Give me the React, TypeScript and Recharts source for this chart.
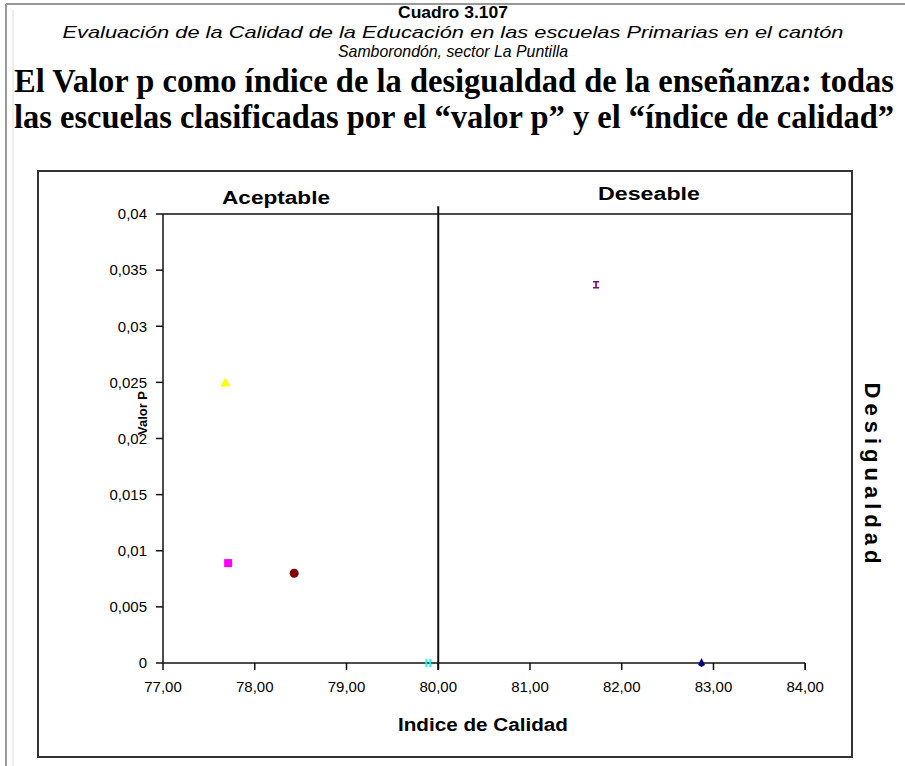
import React from 'react';
import { ScatterChart, Scatter, XAxis, YAxis, ReferenceLine } from 'recharts';

// ---- data ----
const xTicks = [77, 78, 79, 80, 81, 82, 83, 84];
const yTicks = [0, 0.005, 0.01, 0.015, 0.02, 0.025, 0.03, 0.035, 0.04];
const escuelaAmarilla = [{ x: 77.68, y: 0.025 }];
const escuelaMagenta = [{ x: 77.71, y: 0.0089 }];
const escuelaGranate = [{ x: 78.43, y: 0.008 }];
const escuelaCian = [{ x: 79.89, y: 0 }];
const escuelaPurpura = [{ x: 81.72, y: 0.0337 }];
const escuelaAzul = [{ x: 82.87, y: 0 }];

const titleLines = [
  'Cuadro 3.107',
  'Evaluación de la Calidad de la Educación en las escuelas Primarias en el cantón',
  'Samborondón, sector La Puntilla',
  'El Valor p como índice de la desigualdad de la enseñanza: todas',
  'las escuelas clasificadas por el “valor p” y  el “índice de calidad”',
];

const fmtY = (v: number) => (v === 0 ? '0' : String(v).replace('.', ','));
const fmtX = (v: number) => v.toFixed(2).replace('.', ',');

const Tri = (p: any) => (
  <polygon points={`${p.cx},${p.cy - 5} ${p.cx - 5},${p.cy + 4} ${p.cx + 5},${p.cy + 4}`} fill="#FFFF00" />
);
const Sq = (p: any) => <rect x={p.cx - 4} y={p.cy - 4} width={8} height={8} fill="#FF00FF" />;
const Circ = (p: any) => <circle cx={p.cx} cy={p.cy} r={4.5} fill="#800000" />;
const IBeam = (p: any) => (
  <path
    d={`M${p.cx - 3},${p.cy - 3}H${p.cx + 3}M${p.cx},${p.cy - 3}V${p.cy + 3}M${p.cx - 3},${p.cy + 3}H${p.cx + 3}`}
    stroke="#800080"
    strokeWidth={1.6}
    fill="none"
  />
);
const Bars = (p: any) => (
  <path
    d={`M${p.cx - 2},${p.cy - 4}V${p.cy + 4}M${p.cx + 2},${p.cy - 4}V${p.cy + 4}`}
    stroke="#00FFFF"
    strokeWidth={1.6}
    fill="none"
  />
);
const Drop = (p: any) => (
  <polygon points={`${p.cx},${p.cy - 5} ${p.cx + 3.5},${p.cy + 2} ${p.cx},${p.cy + 4} ${p.cx - 3.5},${p.cy + 2}`} fill="#000080" />
);

export default function App() {
  const tickStyle = { fontFamily: 'Liberation Sans, Arial, sans-serif', fontSize: 15, fill: '#000' };
  const sans = 'Liberation Sans, Arial, sans-serif';
  const serif = 'Liberation Serif, Times New Roman, serif';
  return (
    <div style={{ position: 'absolute', left: 0, top: 0, width: 905, height: 766, background: '#fff', overflow: 'hidden' }}>
      {/* header + frame */}
      <svg width={905} height={766} style={{ position: 'absolute', left: 0, top: 0 }}>
        <line x1={6} y1={4} x2={905} y2={4} stroke="#999" strokeWidth={2} />
        <line x1={6} y1={4} x2={6} y2={766} stroke="#999" strokeWidth={2} />
        <line x1={13} y1={10} x2={13} y2={766} stroke="#ddd" strokeWidth={1} />
        <text x={453} y={18} textAnchor="middle" fontFamily={sans} fontWeight="bold" fontSize={16} textLength={110} lengthAdjust="spacingAndGlyphs">
          {titleLines[0]}
        </text>
        <text x={453} y={38} textAnchor="middle" fontFamily={sans} fontStyle="italic" fontSize={17} textLength={781} lengthAdjust="spacingAndGlyphs">
          {titleLines[1]}
        </text>
        <text x={453} y={57} textAnchor="middle" fontFamily={sans} fontStyle="italic" fontSize={17} textLength={230} lengthAdjust="spacingAndGlyphs">
          {titleLines[2]}
        </text>
        <g transform="translate(454 92) scale(1 1.1)">
          <text x={0} y={0} textAnchor="middle" fontFamily={serif} fontWeight="bold" fontSize={31} textLength={880} lengthAdjust="spacingAndGlyphs">
            {titleLines[3]}
          </text>
        </g>
        <g transform="translate(454 128) scale(1 1.1)">
          <text x={0} y={0} textAnchor="middle" fontFamily={serif} fontWeight="bold" fontSize={31} textLength={880} lengthAdjust="spacingAndGlyphs">
            {titleLines[4]}
          </text>
        </g>
        <rect x={38} y={171} width={814} height={586} fill="none" stroke="#333" strokeWidth={2} />
      </svg>
      <div style={{ position: 'absolute', left: 0, top: 0 }}>
        <ScatterChart width={905} height={766} margin={{ top: 214, right: 53, bottom: 73, left: 103 }}>
          <XAxis
            type="number"
            dataKey="x"
            domain={[77, 84.51]}
            ticks={xTicks}
            tickFormatter={fmtX}
            axisLine={false}
            tickLine={{ stroke: '#111', strokeWidth: 1.5 }}
            tickSize={7}
            tickMargin={11}
            tick={tickStyle}
            interval={0}
            allowDataOverflow
          />
          <YAxis
            type="number"
            dataKey="y"
            domain={[0, 0.04]}
            ticks={yTicks}
            tickFormatter={fmtY}
            axisLine={{ stroke: '#111', strokeWidth: 1.5 }}
            tickLine={{ stroke: '#111', strokeWidth: 1.5 }}
            tickSize={7}
            tickMargin={9}
            tick={tickStyle}
            interval={0}
            width={60}
          />
          <ReferenceLine y={0.04} stroke="#111" strokeWidth={1.5} ifOverflow="visible" />
          <ReferenceLine segment={[{ x: 77, y: 0 }, { x: 84, y: 0 }]} stroke="#111" strokeWidth={1.5} ifOverflow="visible" />
          <ReferenceLine segment={[{ x: 84, y: 0 }, { x: 84, y: -0.0006 }]} stroke="#111" strokeWidth={1.5} ifOverflow="visible" />
          <ReferenceLine segment={[{ x: 80, y: -0.0006 }, { x: 80, y: 0.0407 }]} stroke="#111" strokeWidth={2} ifOverflow="visible" />
          <Scatter data={escuelaAmarilla} shape={Tri} isAnimationActive={false} />
          <Scatter data={escuelaMagenta} shape={Sq} isAnimationActive={false} />
          <Scatter data={escuelaGranate} shape={Circ} isAnimationActive={false} />
          <Scatter data={escuelaCian} shape={Bars} isAnimationActive={false} />
          <Scatter data={escuelaPurpura} shape={IBeam} isAnimationActive={false} />
          <Scatter data={escuelaAzul} shape={Drop} isAnimationActive={false} />
        </ScatterChart>
      </div>
      {/* chart labels */}
      <svg width={905} height={766} style={{ position: 'absolute', left: 0, top: 0, pointerEvents: 'none' }}>
        <text x={276} y={204} textAnchor="middle" fontFamily={sans} fontWeight="bold" fontSize={18} textLength={108} lengthAdjust="spacingAndGlyphs">Aceptable</text>
        <text x={649} y={200} textAnchor="middle" fontFamily={sans} fontWeight="bold" fontSize={18} textLength={102} lengthAdjust="spacingAndGlyphs">Deseable</text>
        <text x={483} y={731} textAnchor="middle" fontFamily={sans} fontWeight="bold" fontSize={18} textLength={170} lengthAdjust="spacingAndGlyphs">Indice de Calidad</text>
        <text x={147} y={413} textAnchor="middle" fontFamily={sans} fontWeight="bold" fontSize={13} transform="rotate(-90 147 413)">Valor P</text>
        <text x={865} y={473} textAnchor="middle" fontFamily={sans} fontWeight="bold" fontSize={22} textLength={181} transform="rotate(90 865 473)">Desigualdad</text>
      </svg>
    </div>
  );
}
